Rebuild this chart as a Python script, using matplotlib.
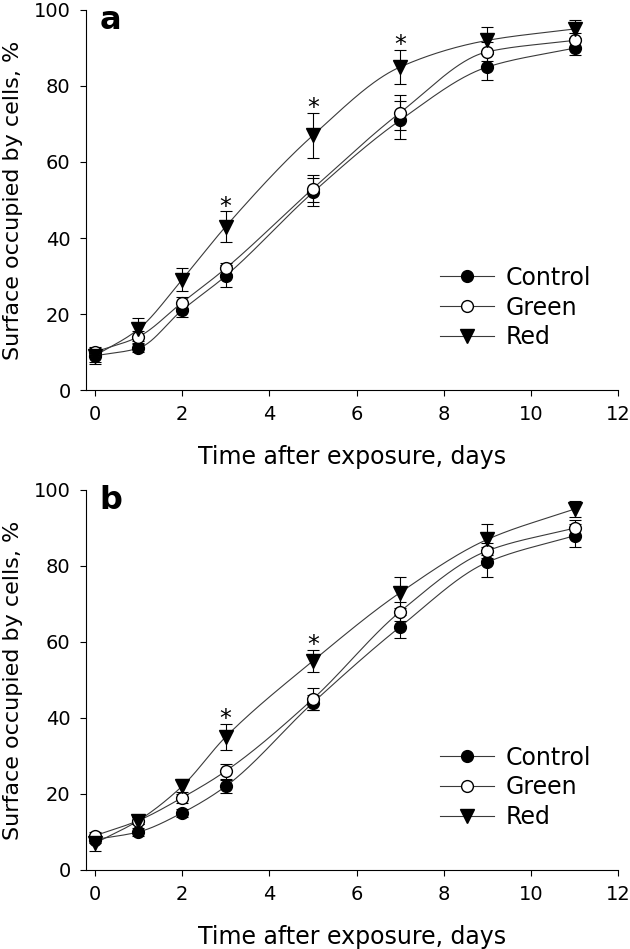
import matplotlib
matplotlib.use("Agg")
import matplotlib.pyplot as plt
import numpy as np

# days after exposure
days = [0, 1, 2, 3, 5, 7, 9, 11]

# panel a: surface occupied by cells, % (mean, error)
a_control = [9, 11, 21, 30, 52, 71, 85, 90]
a_control_err = [1.5, 1.0, 1.7, 2.8, 3.7, 5.0, 3.4, 1.9]
a_green = [10, 14, 23, 32, 53, 73, 89, 92]
a_green_err = [1.0, 1.5, 1.5, 1.5, 3.5, 4.7, 2.5, 2.0]
a_red = [9, 16, 29, 43, 67, 85, 92, 95]
a_red_err = [2.2, 3.0, 3.0, 4.0, 6.0, 4.5, 3.5, 2.4]
a_signif = [3, 5, 7]

# panel b
b_control = [8, 10, 15, 22, 44, 64, 81, 88]
b_control_err = [1.0, 1.0, 1.0, 1.8, 2.0, 3.0, 4.0, 3.0]
b_green = [9, 13, 19, 26, 45, 68, 84, 90]
b_green_err = [1.0, 1.0, 1.5, 2.0, 3.0, 2.5, 2.0, 2.0]
b_red = [7, 13, 22, 35, 55, 73, 87, 95]
b_red_err = [2.0, 1.0, 2.0, 3.5, 3.0, 4.0, 4.0, 2.0]
b_signif = [3, 5]

labels = ["Control", "Green", "Red"]


def smooth_curve(x, y, n=300):
    """Monotone cubic (Fritsch-Carlson) curve through the points."""
    x = np.asarray(x, float)
    y = np.asarray(y, float)
    h = np.diff(x)
    d = np.diff(y) / h
    m = np.zeros_like(y)
    m[0], m[-1] = d[0], d[-1]
    for k in range(1, len(x) - 1):
        if d[k - 1] * d[k] > 0:
            w1 = 2 * h[k] + h[k - 1]
            w2 = h[k] + 2 * h[k - 1]
            m[k] = (w1 + w2) / (w1 / d[k - 1] + w2 / d[k])
    xs = np.linspace(x[0], x[-1], n)
    idx = np.clip(np.searchsorted(x, xs) - 1, 0, len(x) - 2)
    t = (xs - x[idx]) / h[idx]
    h00 = 2 * t**3 - 3 * t**2 + 1
    h10 = t**3 - 2 * t**2 + t
    h01 = -2 * t**3 + 3 * t**2
    h11 = t**3 - t**2
    ys = h00 * y[idx] + h10 * h[idx] * m[idx] + h01 * y[idx + 1] + h11 * h[idx] * m[idx + 1]
    return xs, ys


def draw_panel(ax, series, signif, letter):
    styles = [
        dict(marker="o", mfc="black", mec="black", ms=8.5),
        dict(marker="o", mfc="white", mec="black", ms=8.5),
        dict(marker="v", mfc="black", mec="black", ms=9.5),
    ]
    handles = []
    for (vals, errs), st, lab in zip(series, styles, labels):
        xs, ys = smooth_curve(days, vals)
        ax.plot(xs, ys, color="#3a3a3a", lw=0.8, zorder=2)
        ax.errorbar(days, vals, yerr=errs, fmt="none", ecolor="black",
                    elinewidth=0.8, capsize=4.5, capthick=0.8, zorder=3)
        ax.plot(days, vals, linestyle="none", zorder=4, **st)
        h, = ax.plot([], [], color="#3a3a3a", lw=0.8, label=lab, **st)
        handles.append(h)

    # significance marks above the red series
    red_vals, red_errs = series[2]
    for d in signif:
        i = days.index(d)
        ax.text(d, red_vals[i] + red_errs[i] - 0.6, "*", ha="center",
                va="baseline", fontsize=17)

    ax.text(0.026, 0.95, letter, transform=ax.transAxes, fontsize=23,
            fontweight="bold", ha="left", va="baseline")

    ax.set_xlim(-0.2, 12)
    ax.set_ylim(0, 100)
    ax.set_xticks(range(0, 13, 2))
    ax.set_yticks(range(0, 101, 20))
    for side in ["top", "right"]:
        ax.spines[side].set_visible(False)
    for side in ["left", "bottom"]:
        ax.spines[side].set_linewidth(0.8)
    ax.tick_params(direction="out", length=4, width=0.8, labelsize=14, pad=7)
    ax.set_xlabel("Time after exposure, days", fontsize=17, labelpad=15)
    ax.set_ylabel("Surface occupied by cells, %", fontsize=16, labelpad=8)

    ax.legend(handles=handles, loc="center left", bbox_to_anchor=(0.665, 0.217),
              frameon=False, fontsize=17, handlelength=2.3, handletextpad=0.5,
              labelspacing=0.25, borderpad=0, borderaxespad=0)


fig = plt.figure(figsize=(6.3, 9.49), dpi=100)
ax_a = fig.add_axes([0.1365, 0.589, 0.845, 0.4005])
ax_b = fig.add_axes([0.1365, 0.0833, 0.845, 0.4004])

draw_panel(ax_a, [(a_control, a_control_err), (a_green, a_green_err), (a_red, a_red_err)],
           a_signif, "a")
draw_panel(ax_b, [(b_control, b_control_err), (b_green, b_green_err), (b_red, b_red_err)],
           b_signif, "b")

fig.savefig("out.png", dpi=100)
